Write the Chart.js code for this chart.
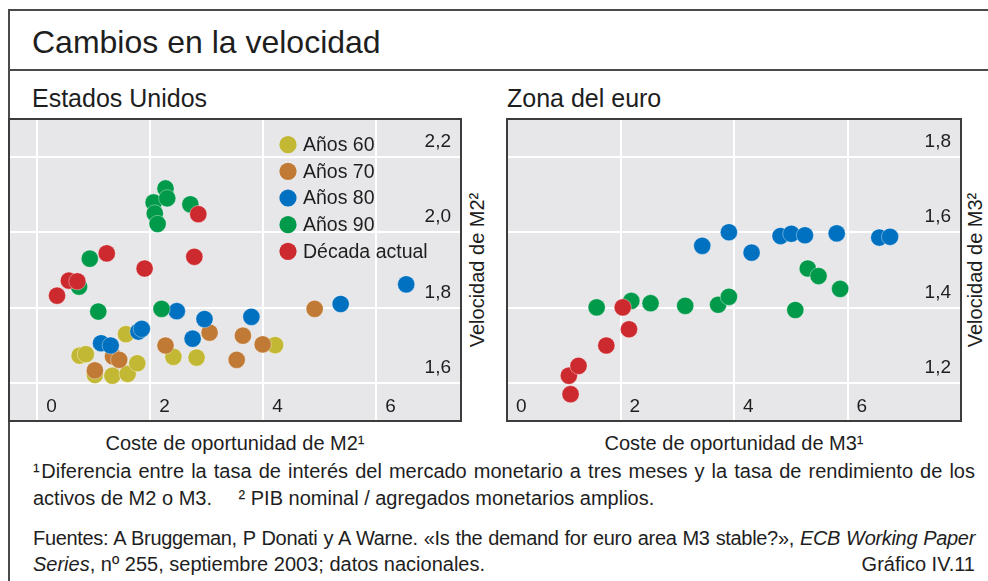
<!DOCTYPE html>
<html lang="es">
<head>
<meta charset="utf-8">
<title>Cambios en la velocidad</title>
<script src="https://cdn.jsdelivr.net/npm/chart.js@4.4.1/dist/chart.umd.min.js"></script>
<style>
  html, body { margin: 0; padding: 0; background: #fff; }
  body { width: 988px; height: 581px; position: relative; overflow: hidden;
         font-family: "Liberation Sans", Arial, sans-serif; color: #1e1e1e; }
  .line { position: absolute; background: #4a4a4a; }
  .txt { position: absolute; line-height: 1; white-space: nowrap; }
  .just { text-align: justify; text-align-last: justify; white-space: normal; }
  .ytitle { position: absolute; width: 220px; height: 20px; font-size: 20px; line-height: 1;
            text-align: center; transform: rotate(-90deg); white-space: nowrap; }
  canvas { position: absolute; }
</style>
</head>
<body>

<!-- marco del gráfico -->
<div class="line" style="left:8px; top:9px; width:2px; height:572px;"></div>
<div class="line" style="left:8px; top:9px; width:980px; height:2px;"></div>
<div class="line" style="left:8px; top:69px; width:980px; height:2px;"></div>

<div class="txt" style="left:32px; top:26px; font-size:32px;">Cambios en la velocidad</div>
<div class="txt" style="left:32px; top:86px; font-size:25px;">Estados Unidos</div>
<div class="txt" style="left:507px; top:86px; font-size:25px;">Zona del euro</div>

<canvas id="chartUS" width="454" height="304" style="left:8px; top:118px;"></canvas>
<canvas id="chartEA" width="456" height="304" style="left:506px; top:118px;"></canvas>

<div class="ytitle" style="left:367px; top:260px;">Velocidad de M2²</div>
<div class="ytitle" style="left:865px; top:260px;">Velocidad de M3²</div>

<div class="txt" style="left:35px; width:400px; text-align:center; top:433px; font-size:20px;">Coste de oportunidad de M2¹</div>
<div class="txt" style="left:534px; width:400px; text-align:center; top:433px; font-size:20px;">Coste de oportunidad de M3¹</div>

<!-- notas -->
<div class="txt just" style="left:33px; width:942px; top:461px; font-size:20px;">¹&#8202;Diferencia entre la tasa de interés del mercado monetario a tres meses y la tasa de rendimiento de los</div>
<div class="txt" style="left:33px; top:488px; font-size:20px;">activos de M2 o M3. <span style="margin-left:21px">² PIB nominal / agregados monetarios amplios.</span></div>
<div class="txt just" style="left:33px; width:942px; top:528px; font-size:20px; letter-spacing:-0.32px; white-space:nowrap;">Fuentes: A Bruggeman, P Donati y A Warne. «Is the demand for euro area M3 stable?», <i>ECB Working Paper</i></div>
<div class="txt" style="left:33px; top:554px; font-size:20px;"><i>Series</i>, nº 255, septiembre 2003; datos nacionales.</div>
<div class="txt" style="right:13px; top:554px; font-size:20px;">Gráfico IV.11</div>

<script>
// Series y colores
const seriesLabels = ["Años 60", "Años 70", "Años 80", "Años 90", "Década actual"];
const seriesColors = ["#c3b834", "#c07a35", "#0070c0", "#009a4a", "#cc2a2e"];

// Estados Unidos: coste de oportunidad de M2 (x) y velocidad de M2 (y)
const us60x = [0.75, 0.86, 1.02, 1.33, 1.57, 1.60, 1.77, 2.41, 2.82, 4.21];
const us60y = [1.673, 1.677, 1.622, 1.620, 1.730, 1.625, 1.653, 1.670, 1.668, 1.701];
const us70x = [1.02, 1.34, 1.45, 2.27, 3.05, 3.53, 3.64, 3.99, 4.91];
const us70y = [1.634, 1.671, 1.662, 1.700, 1.734, 1.662, 1.726, 1.703, 1.797];
const us80x = [1.13, 1.30, 1.79, 1.85, 2.47, 2.75, 2.96, 3.79, 5.37, 6.53];
const us80y = [1.706, 1.700, 1.737, 1.744, 1.791, 1.718, 1.770, 1.776, 1.810, 1.862];
const us90x = [0.74, 0.93, 1.08, 2.06, 2.08, 2.13, 2.20, 2.27, 2.30, 2.71];
const us90y = [1.856, 1.930, 1.790, 2.079, 2.050, 2.022, 1.797, 2.116, 2.090, 2.074];
const us00x = [0.35, 0.56, 0.71, 1.23, 1.90, 2.78, 2.85];
const us00y = [1.832, 1.872, 1.870, 1.944, 1.904, 1.935, 2.048];

// Zona del euro: coste de oportunidad de M3 (x) y velocidad de M3 (y)
const ea80x = [3.44, 3.91, 4.31, 4.82, 5.01, 5.25, 5.81, 6.56, 6.75];
const ea80y = [1.564, 1.600, 1.546, 1.590, 1.596, 1.592, 1.597, 1.586, 1.588];
const ea90x = [1.58, 2.19, 2.53, 3.14, 3.72, 3.91, 5.08, 5.30, 5.49, 5.87];
const ea90y = [1.401, 1.418, 1.412, 1.405, 1.408, 1.429, 1.394, 1.504, 1.484, 1.450];
const ea00x = [1.09, 1.12, 1.26, 1.75, 2.04, 2.15];
const ea00y = [1.220, 1.171, 1.246, 1.300, 1.401, 1.343];

// Ejes
const usXTicks = [0, 2, 4, 6];
const usYTicks = [1.6, 1.8, 2.0, 2.2];
const eaXTicks = [0, 2, 4, 6];
const eaYTicks = [1.2, 1.4, 1.6, 1.8];

const PLOT_BG = "#e7e7e9";
const FONT = "'Liberation Sans', Arial, sans-serif";

Chart.defaults.font.family = FONT;
Chart.defaults.color = "#1e1e1e";

function toPoints(xs, ys) {
    return xs.map((x, i) => ({ x: x, y: ys[i] }));
}

function makeDataset(idx, xs, ys) {
    return {
        label: seriesLabels[idx],
        data: toPoints(xs, ys),
        backgroundColor: seriesColors[idx],
        borderColor: "rgba(255,255,255,0.55)",
        borderWidth: 0.7,
        pointRadius: 8.6,
        order: 10 - idx   // la década actual queda encima
    };
}

// fondo gris y marco oscuro del área del gráfico
const plotFrame = {
    id: "plotFrame",
    beforeDraw(chart) {
        const { ctx, chartArea: a } = chart;
        ctx.save();
        ctx.fillStyle = PLOT_BG;
        ctx.fillRect(a.left, a.top, a.width, a.height);
        ctx.restore();
    },
    afterDraw(chart) {
        const { ctx, chartArea: a } = chart;
        ctx.save();
        ctx.strokeStyle = "#3c3c3c";
        ctx.lineWidth = 2;
        ctx.strokeRect(a.left, a.top, a.width, a.height);
        ctx.restore();
    }
};

// leyenda dentro del área del gráfico
const insideLegend = {
    id: "insideLegend",
    afterDatasetsDraw(chart, args, opts) {
        if (!opts.show) return;
        const ctx = chart.ctx;
        ctx.save();
        ctx.font = "19.5px " + FONT;
        ctx.textBaseline = "middle";
        chart.data.datasets.forEach((ds, i) => {
            const y = opts.y + i * opts.step;
            ctx.beginPath();
            ctx.arc(opts.x, y, 8.6, 0, Math.PI * 2);
            ctx.fillStyle = ds.backgroundColor;
            ctx.fill();
            ctx.fillStyle = "#1e1e1e";
            ctx.fillText(ds.label, opts.x + 15, y + 1);
        });
        ctx.restore();
    }
};

function makeChart(id, datasets, xMin, xMax, xTicks, yMin, yMax, yTicks, legend) {
    const tickFont = { size: 19 };
    return new Chart(document.getElementById(id), {
        type: "scatter",
        data: { datasets: datasets },
        options: {
            responsive: false,
            animation: false,
            events: [],
            layout: { padding: 1, autoPadding: false },
            plugins: {
                legend: { display: false },
                tooltip: { enabled: false },
                insideLegend: legend
            },
            scales: {
                x: {
                    type: "linear", position: "bottom", min: xMin, max: xMax,
                    afterBuildTicks: s => { s.ticks = xTicks.map(v => ({ value: v })); },
                    afterFit: s => { s.height = 0; s.paddingLeft = 0; s.paddingRight = 0; },
                    grid: { color: "#ffffff", lineWidth: 2, drawTicks: false },
                    border: { display: false },
                    ticks: {
                        mirror: true, align: "start", padding: 3, labelOffset: 9,
                        font: tickFont, color: "#1e1e1e",
                        callback: v => String(v)
                    }
                },
                y: {
                    type: "linear", position: "right", min: yMin, max: yMax,
                    afterBuildTicks: s => { s.ticks = yTicks.map(v => ({ value: v })); },
                    afterFit: s => { s.width = 0; s.paddingTop = 0; s.paddingBottom = 0; },
                    grid: { color: "#ffffff", lineWidth: 2, drawTicks: false },
                    border: { display: false },
                    ticks: {
                        mirror: true, padding: -10, labelOffset: -15,
                        font: tickFont, color: "#1e1e1e",
                        callback: v => v.toFixed(1).replace(".", ",")
                    }
                }
            }
        },
        plugins: [plotFrame, insideLegend]
    });
}

makeChart("chartUS", [
    makeDataset(0, us60x, us60y),
    makeDataset(1, us70x, us70y),
    makeDataset(2, us80x, us80y),
    makeDataset(3, us90x, us90y),
    makeDataset(4, us00x, us00y)
], -0.5, 7.5, usXTicks, 1.5, 2.3, usYTicks, { show: true, x: 280, y: 26.7, step: 26.65 });

makeChart("chartEA", [
    makeDataset(2, ea80x, ea80y),
    makeDataset(3, ea90x, ea90y),
    makeDataset(4, ea00x, ea00y)
], 0, 8, eaXTicks, 1.1, 1.9, eaYTicks, { show: false });
</script>
</body>
</html>
